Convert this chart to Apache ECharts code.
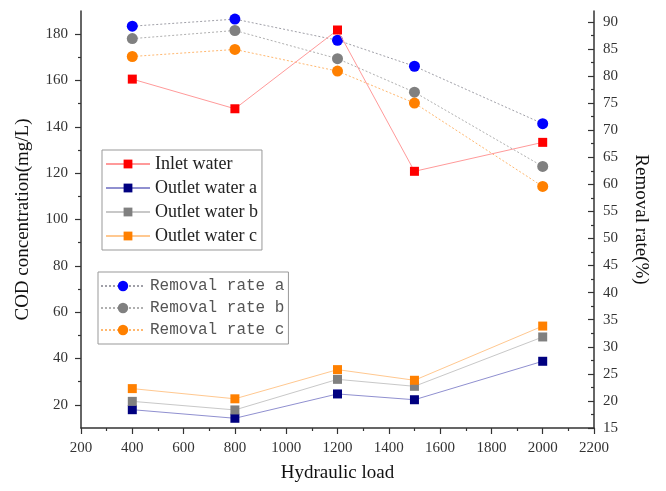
<!DOCTYPE html>
<html>
<head>
<meta charset="utf-8">
<script src="https://cdn.jsdelivr.net/npm/echarts@6/dist/echarts.min.js"></script>
<style>
  html, body { margin: 0; padding: 0; background: #fff; }
  #chart { width: 666px; height: 491px; }
</style>
</head>
<body>
<div id="chart"></div>
<script>
// Hydraulic load levels (x positions)
const hydraulicLoad = [400, 800, 1200, 1500, 2000];

// COD concentration, mg/L (left axis)
const inletWater   = [160.6, 147.8, 181.8, 120.8, 133.3];
const outletWaterA = [17.9, 14.2, 24.7, 22.2, 38.8];
const outletWaterB = [21.5, 17.8, 31.0, 28.0, 49.3];
const outletWaterC = [27.0, 22.6, 35.2, 30.6, 54.0];

// Removal rate, % (right axis)
const removalRateA = [89.2, 90.5, 86.6, 81.8, 71.2];
const removalRateB = [86.9, 88.4, 83.2, 77.0, 63.3];
const removalRateC = [83.6, 84.9, 80.9, 75.0, 59.6];

// Tick values
const codLabels     = [20, 40, 60, 80, 100, 120, 140, 160, 180];
const codMinor      = [30, 50, 70, 90, 110, 130, 150, 170];
const rateLabels    = [15, 20, 25, 30, 35, 40, 45, 50, 55, 60, 65, 70, 75, 80, 85, 90];
const rateMinor     = [17.5, 22.5, 27.5, 32.5, 37.5, 42.5, 47.5, 52.5, 57.5, 62.5, 67.5, 72.5, 77.5, 82.5, 87.5];

const pairs = (ys) => hydraulicLoad.map((x, i) => [x, ys[i]]);

const serif = 'Liberation Serif, Times New Roman, serif';
const axisColor = '#333';

const chart = echarts.init(document.getElementById('chart'), null, { renderer: 'canvas' });

function concSeries(name, data, lineColor, markColor, z) {
  return {
    name: name, type: 'line', yAxisIndex: 0, data: pairs(data),
    symbol: 'rect', symbolSize: 9, z: z,
    lineStyle: { color: lineColor, width: 1 },
    itemStyle: { color: markColor },
    emphasis: { disabled: true }
  };
}
function rateSeries(name, data, lineColor, markColor) {
  return {
    name: name, type: 'line', yAxisIndex: 1, data: pairs(data),
    symbol: 'circle', symbolSize: 11, z: 2,
    lineStyle: { color: lineColor, width: 1, type: [2, 2] },
    itemStyle: { color: markColor },
    emphasis: { disabled: true }
  };
}

chart.setOption({
  animation: false,
  backgroundColor: '#fff',
  grid: { left: 81, right: 72, top: 11, bottom: 63 },
  legend: [
    {
      data: ['Inlet water', 'Outlet water a', 'Outlet water b', 'Outlet water c'],
      orient: 'vertical', left: 102, top: 150,
      itemWidth: 44, itemHeight: 11, itemGap: 6,
      padding: [5, 4, 5, 3],
      borderColor: '#999', borderWidth: 1, backgroundColor: '#fff',
      textStyle: { fontFamily: serif, fontSize: 18, lineHeight: 18, color: '#222' }
    },
    {
      data: ['Removal rate a', 'Removal rate b', 'Removal rate c'],
      orient: 'vertical', left: 98, top: 272,
      itemWidth: 44, itemHeight: 13, itemGap: 6,
      padding: [6, 4, 6, 2],
      borderColor: '#999', borderWidth: 1, backgroundColor: '#fff',
      textStyle: { fontFamily: 'Liberation Mono, DejaVu Sans Mono, monospace', fontSize: 16, lineHeight: 16, color: '#555' }
    }
  ],
  xAxis: {
    type: 'value', min: 200, max: 2200, interval: 200,
    name: 'Hydraulic load', nameLocation: 'middle', nameGap: 36,
    nameTextStyle: { fontFamily: serif, fontSize: 19, color: '#111' },
    axisLine: { lineStyle: { color: axisColor, width: 1.5 } },
    axisTick: { length: 6, lineStyle: { color: axisColor, width: 1.2 } },
    minorTick: { show: true, splitNumber: 2, length: 3, lineStyle: { color: axisColor, width: 1.2 } },
    axisLabel: { fontFamily: serif, fontSize: 15, color: '#333', margin: 13, formatter: (v) => String(v) },
    splitLine: { show: false }
  },
  yAxis: [
    {
      type: 'value', position: 'left', min: 10, max: 190, interval: 10,
      name: 'COD concentration(mg/L)', nameLocation: 'middle', nameGap: 48, nameRotate: 90,
      nameTextStyle: { fontFamily: serif, fontSize: 19, color: '#111' },
      axisLine: { show: true, lineStyle: { color: axisColor, width: 1.5 } },
      axisTick: { show: true, length: 6, customValues: codLabels, lineStyle: { color: axisColor, width: 1.2 } },
      axisLabel: { customValues: codLabels, fontFamily: serif, fontSize: 15, color: '#333', margin: 13 },
      splitLine: { show: false }
    },
    {
      type: 'value', position: 'right', min: 15, max: 92, interval: 5,
      name: 'Removal rate(%)', nameLocation: 'middle', nameGap: 37, nameRotate: -90,
      nameTextStyle: { fontFamily: serif, fontSize: 19, color: '#111' },
      axisLine: { show: true, lineStyle: { color: axisColor, width: 1.5 } },
      axisTick: { show: true, inside: true, length: 6, customValues: rateLabels, lineStyle: { color: axisColor, width: 1.2 } },
      axisLabel: { customValues: rateLabels, fontFamily: serif, fontSize: 15, color: '#333', margin: 9 },
      splitLine: { show: false }
    },
    {
      // minor ticks of the COD axis
      type: 'value', position: 'left', min: 10, max: 190, interval: 10,
      axisLine: { show: false },
      axisTick: { show: true, length: 3, customValues: codMinor, lineStyle: { color: axisColor, width: 1.2 } },
      axisLabel: { show: false },
      splitLine: { show: false }
    },
    {
      // minor ticks of the removal-rate axis
      type: 'value', position: 'right', min: 15, max: 92, interval: 5,
      axisLine: { show: false },
      axisTick: { show: true, inside: true, length: 3, customValues: rateMinor, lineStyle: { color: axisColor, width: 1.2 } },
      axisLabel: { show: false },
      splitLine: { show: false }
    }
  ],
  series: [
    rateSeries('Removal rate a', removalRateA, '#a0a0a8', '#0000ff'),
    rateSeries('Removal rate b', removalRateB, '#b0b0b0', '#808080'),
    rateSeries('Removal rate c', removalRateC, '#ffb870', '#ff8000'),
    concSeries('Outlet water a', outletWaterA, '#9090d0', '#000080', 3),
    concSeries('Outlet water b', outletWaterB, '#c8c8c8', '#808080', 3),
    concSeries('Outlet water c', outletWaterC, '#ffc890', '#ff8000', 3),
    concSeries('Inlet water', inletWater, '#ff9a9a', '#ff0000', 4)
  ]
});
</script>
</body>
</html>
